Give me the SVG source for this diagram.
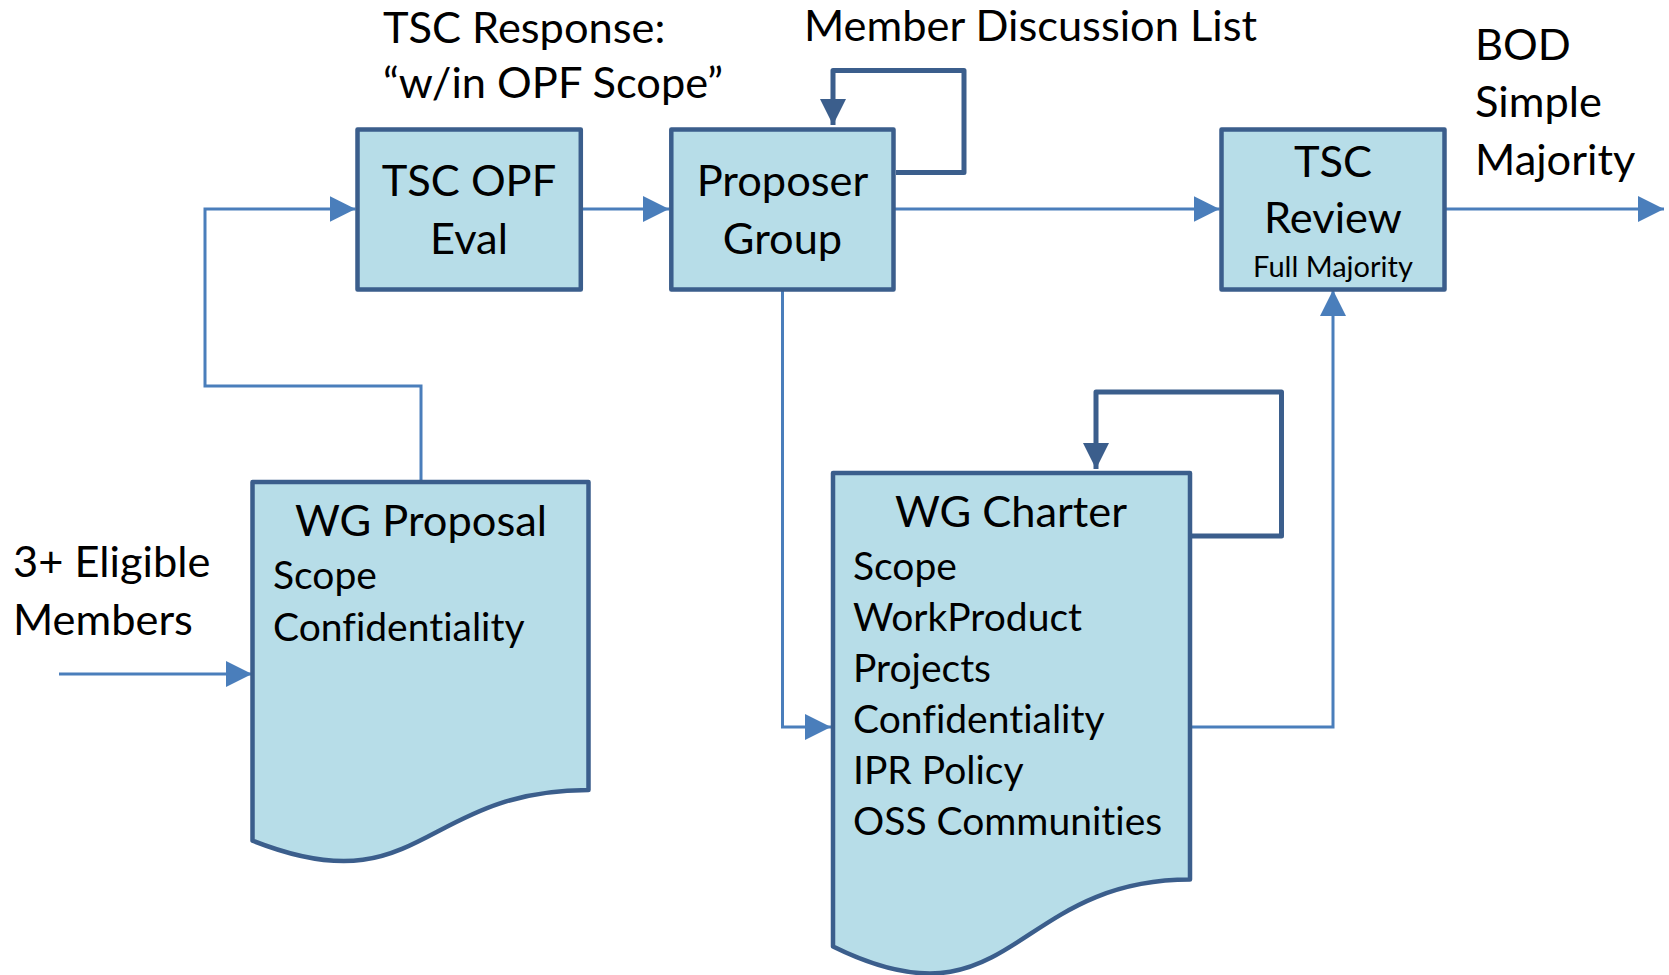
<svg xmlns="http://www.w3.org/2000/svg" width="1669" height="975" viewBox="0 0 1669 975">
  <defs>
    <marker id="arrowBlue" markerUnits="userSpaceOnUse" markerWidth="26" markerHeight="26" viewBox="0 0 26 26" refX="26" refY="13" orient="auto">
      <path d="M0,0 L26,13 L0,26 Z" fill="#4a7ebb"/>
    </marker>
    <marker id="arrowDark" markerUnits="userSpaceOnUse" markerWidth="26" markerHeight="26" viewBox="0 0 26 26" refX="26" refY="13" orient="auto">
      <path d="M0,0 L26,13 L0,26 Z" fill="#3b5e8c"/>
    </marker>
  </defs>
  <style>
    .box{fill:#b7dde8;stroke:#3b5e8c;stroke-width:4.5;stroke-linejoin:round}
    .wire{fill:none;stroke:#4a7ebb;stroke-width:3;marker-end:url(#arrowBlue)}
    .loop{fill:none;stroke:#3b5e8c;stroke-width:5;stroke-linejoin:round;marker-end:url(#arrowDark)}
    text{font-family:Lato,"Open Sans",sans-serif;fill:#000;font-variant-ligatures:none;font-feature-settings:"liga" 0}
    .lg{font-size:43.4px}
    .md{font-size:39px}
    .sm{font-size:29px}
    .c{text-anchor:middle}
  </style>
  <rect width="1669" height="975" fill="#ffffff"/>

  <!-- free labels -->
  <g id="labels">
    <text class="lg" x="383" y="43">TSC Response:</text>
    <text class="lg" x="383" y="98">“w/in OPF Scope”</text>
    <text class="lg" x="804" y="41">Member Discussion List</text>
    <text class="lg" x="1475" y="60">BOD</text>
    <text class="lg" x="1475" y="117">Simple</text>
    <text class="lg" x="1475" y="175">Majority</text>
    <text class="lg" x="13" y="577">3+ Eligible</text>
    <text class="lg" x="13" y="635">Members</text>
  </g>

  <!-- connectors -->
  <g id="connectors">
    <path class="wire" d="M59,674 H252"/>
    <path class="wire" d="M421,482 V386 H205 V209 H355.5"/>
    <path class="wire" d="M580.8,209 H669"/>
    <path class="wire" d="M893.5,209 H1219.5"/>
    <path class="wire" d="M1444.5,209 H1664"/>
    <path class="wire" d="M782.5,289.5 V727 H831"/>
    <path class="wire" d="M1192,727 H1333 V290"/>
    <path class="loop" d="M896,172.5 H964 V70.5 H833 V125"/>
    <path class="loop" d="M1192,536 H1281.5 V392 H1096 V469"/>
  </g>

  <g id="tsc-opf-eval">
    <rect class="box" x="357.5" y="129.5" width="223.3" height="160"/>
    <text class="lg c" x="469" y="196">TSC OPF</text>
    <text class="lg c" x="469" y="254">Eval</text>
  </g>

  <g id="proposer-group">
    <rect class="box" x="671.3" y="129.5" width="222.2" height="160"/>
    <text class="lg c" x="782.5" y="196">Proposer</text>
    <text class="lg c" x="782.5" y="254">Group</text>
  </g>

  <g id="tsc-review">
    <rect class="box" x="1221.5" y="129.5" width="223" height="160"/>
    <text class="lg c" x="1333" y="177">TSC</text>
    <text class="lg c" x="1333" y="233">Review</text>
    <text class="sm c" x="1333" y="277">Full Majority</text>
  </g>

  <g id="wg-proposal">
    <path class="box" d="M252.5,482 H588.5 V790 C420.5,790 420.5,907.3 252.5,840.7 Z"/>
    <text class="lg c" x="421" y="536">WG Proposal</text>
    <text class="md" x="273" y="589">Scope</text>
    <text class="md" x="273" y="641">Confidentiality</text>
  </g>

  <g id="wg-charter">
    <path class="box" d="M833,473 H1190 V879.6 C1011.5,879.6 1011.5,1034.5 833,946.5 Z"/>
    <text class="lg c" x="1011" y="527">WG Charter</text>
    <text class="md" x="853" y="580">Scope</text>
    <text class="md" x="853" y="631">WorkProduct</text>
    <text class="md" x="853" y="682">Projects</text>
    <text class="md" x="853" y="733">Confidentiality</text>
    <text class="md" x="853" y="784">IPR Policy</text>
    <text class="md" x="853" y="835">OSS Communities</text>
  </g>
</svg>
